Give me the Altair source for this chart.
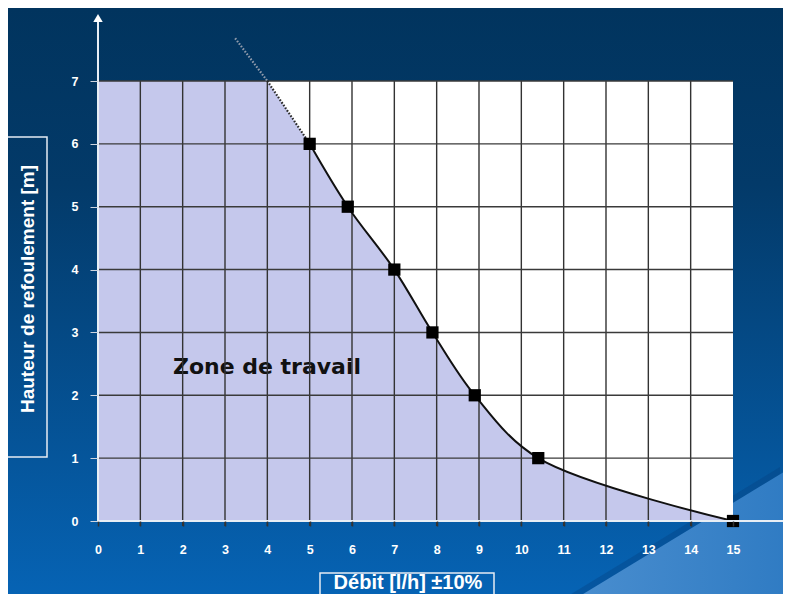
import altair as alt
import pandas as pd

# ---- data ----
debit = [5.0, 5.9, 7.0, 7.9, 8.9, 10.4, 15.0]        # l/h
hauteur = [6, 5, 4, 3, 2, 1, 0]                      # m
ext_out_debit = [3.24, 4.0]                           # dotted extrapolation above the grid
ext_out_hauteur = [7.68, 7.0]
ext_in_debit = [4.0, 5.0]                             # dotted extrapolation inside the grid
ext_in_hauteur = [7.0, 6.0]
fill_lin_x = [0.0, 4.0, 5.0]                          # working zone, straight part
fill_lin_y = [7.0, 7.0, 6.0]
x_ticks = list(range(0, 16))
y_ticks = list(range(0, 8))
grid_x = list(range(1, 15))
grid_y = list(range(1, 8))

W, H = 635, 440
PL, PT, PR, PB = 90, 73, 50, 73

curve = pd.DataFrame({"x": debit, "y": hauteur})
ext_out = pd.DataFrame({"x": ext_out_debit, "y": ext_out_hauteur})
ext_in = pd.DataFrame({"x": ext_in_debit, "y": ext_in_hauteur})
fill_lin = pd.DataFrame({"x": fill_lin_x, "y": fill_lin_y})
gx = pd.DataFrame({"x": grid_x})
gy = pd.DataFrame({"y": grid_y})
one = pd.DataFrame({"a": [0]})

xs = alt.Scale(domain=[0, 15], nice=False, zero=False)
ys = alt.Scale(domain=[0, 7], nice=False, zero=False)

WHITE_FONT = "Liberation Sans"
INTERP = "catmull-rom"

bg = alt.Chart(one).mark_rect(
    fill=alt.Gradient(
        gradient="linear",
        stops=[alt.GradientStop(color="#01345e", offset=0),
               alt.GradientStop(color="#033a69", offset=0.3),
               alt.GradientStop(color="#0663b4", offset=1)],
        x1=0, x2=0, y1=0, y2=1),
    stroke=None,
).encode(x=alt.value(-PL), x2=alt.value(W + PR), y=alt.value(-PT), y2=alt.value(H + PB))

shadow = alt.Chart(one).mark_point(
    shape="M -1 1 L 1 -0.216 L 1 1 Z", filled=True, opacity=0.35, fill="#06407e",
    strokeWidth=0, size=222 * 222,
).encode(x=alt.value(571), y=alt.value(410))

wedge = alt.Chart(one).mark_point(
    shape="M -1 1 L 1 -0.216 L 1 1 Z", filled=True, opacity=1,
    fill=alt.Gradient(
        gradient="linear",
        stops=[alt.GradientStop(color="#4a8ecf", offset=0),
               alt.GradientStop(color="#2f7bc3", offset=1)],
        x1=0, x2=1, y1=0, y2=0),
    strokeWidth=0, size=222 * 222,
).encode(x=alt.value(583), y=alt.value(410))

panel = alt.Chart(one).mark_rect(fill="white", stroke=None).encode(
    x=alt.value(0), x2=alt.value(W), y=alt.value(0), y2=alt.value(H))

area_lin = alt.Chart(fill_lin).mark_area(color="#c5c8ec", interpolate="linear", opacity=1).encode(
    x=alt.X("x:Q", scale=xs,
            axis=alt.Axis(values=x_ticks, format="d", title=None, domain=False, grid=False, zindex=1,
                          tickColor="#333333", tickSize=5, tickWidth=1.5,
                          labelColor="white", labelFont=WHITE_FONT, labelFontWeight="bold",
                          labelFontSize=12.5, labelPadding=17, labelFlush=False)),
    y=alt.Y("y:Q", scale=ys,
            axis=alt.Axis(values=y_ticks, format="d", title=None, domain=False, grid=False, zindex=1,
                          tickColor="#cfd6e0", tickSize=8, tickWidth=1,
                          labelColor="white", labelFont=WHITE_FONT, labelFontWeight="bold",
                          labelFontSize=12.5, labelPadding=12, labelFlush=False)),
    y2=alt.datum(0))

area_curve = alt.Chart(curve).mark_area(color="#c5c8ec", interpolate=INTERP, opacity=1).encode(
    x=alt.X("x:Q", scale=xs), y=alt.Y("y:Q", scale=ys), y2=alt.datum(0))

zone = alt.Chart(one).mark_text(
    text="Zone de travail", font="DejaVu Sans", fontWeight="bold", fontSize=22,
    color="#111111", align="left", baseline="middle",
).encode(x=alt.datum(1.77), y=alt.datum(2.45))

vgrid = alt.Chart(gx).mark_rule(color="#333333", strokeWidth=1.4).encode(
    x=alt.X("x:Q", scale=xs), y=alt.value(0), y2=alt.value(H + 5))
hgrid = alt.Chart(gy).mark_rule(color="#3a3a3a", strokeWidth=1.4).encode(
    y=alt.Y("y:Q", scale=ys), x=alt.value(0), x2=alt.value(W))

line = alt.Chart(curve).mark_line(color="#111111", strokeWidth=2, interpolate=INTERP).encode(
    x=alt.X("x:Q", scale=xs), y=alt.Y("y:Q", scale=ys))

dotted_in = alt.Chart(ext_in).mark_line(color="#2a2a2a", strokeWidth=2.2, strokeDash=[1.6, 1.6]).encode(
    x=alt.X("x:Q", scale=xs), y=alt.Y("y:Q", scale=ys))
dotted_out = alt.Chart(ext_out).mark_line(color="#8f9aab", strokeWidth=2.2, strokeDash=[1.6, 1.6],
                                          clip=False).encode(
    x=alt.X("x:Q", scale=xs), y=alt.Y("y:Q", scale=ys))

pts = alt.Chart(curve).mark_square(color="black", size=150, opacity=1).encode(
    x=alt.X("x:Q", scale=xs), y=alt.Y("y:Q", scale=ys))

yaxis_line = alt.Chart(one).mark_rule(color="#e8eef5", strokeWidth=2).encode(
    x=alt.value(0), y=alt.value(H), y2=alt.value(-62))
xaxis_line = alt.Chart(one).mark_rule(color="#e8eef5", strokeWidth=2).encode(
    y=alt.value(H), x=alt.value(0), x2=alt.value(688))
arrow_up = alt.Chart(one).mark_point(shape="triangle-up", filled=True, color="white",
                                     size=90, opacity=1).encode(x=alt.value(0), y=alt.value(-63))
arrow_right = alt.Chart(one).mark_point(shape="triangle-right", filled=True, color="white",
                                        size=90, opacity=1).encode(x=alt.value(690), y=alt.value(H))

ytitle_box = alt.Chart(one).mark_rect(filled=False, stroke="#e6ecf3", strokeWidth=1.5).encode(
    x=alt.value(-91), x2=alt.value(-51), y=alt.value(56), y2=alt.value(376))
ytitle = alt.Chart(one).mark_text(
    text="Hauteur de refoulement [m]", font=WHITE_FONT, fontWeight="bold", fontSize=19,
    color="white", angle=270, align="center", baseline="middle",
).encode(x=alt.value(-70), y=alt.value(208))

xtitle_box = alt.Chart(one).mark_rect(filled=False, stroke="#e6ecf3", strokeWidth=1.5).encode(
    x=alt.value(222), x2=alt.value(396), y=alt.value(492), y2=alt.value(545))
xtitle = alt.Chart(one).mark_text(
    text="Débit [l/h] ±10%", font=WHITE_FONT, fontWeight="bold", fontSize=20,
    color="white", align="center", baseline="middle",
).encode(x=alt.value(310), y=alt.value(502))

chart = alt.layer(
    bg, shadow, wedge, panel, area_lin, area_curve, zone, vgrid, hgrid, line, dotted_in, dotted_out, pts,
    yaxis_line, xaxis_line, arrow_up, arrow_right, ytitle_box, ytitle, xtitle_box, xtitle,
).properties(
    width=W, height=H,
    autosize=alt.AutoSizeParams(type="none"),
    padding={"left": PL, "top": PT, "right": PR, "bottom": PB},
).configure(background="#0a4f90").configure_view(stroke=None, fill=None)

chart.save("out.html", embed_options={"renderer": "svg", "actions": False})
